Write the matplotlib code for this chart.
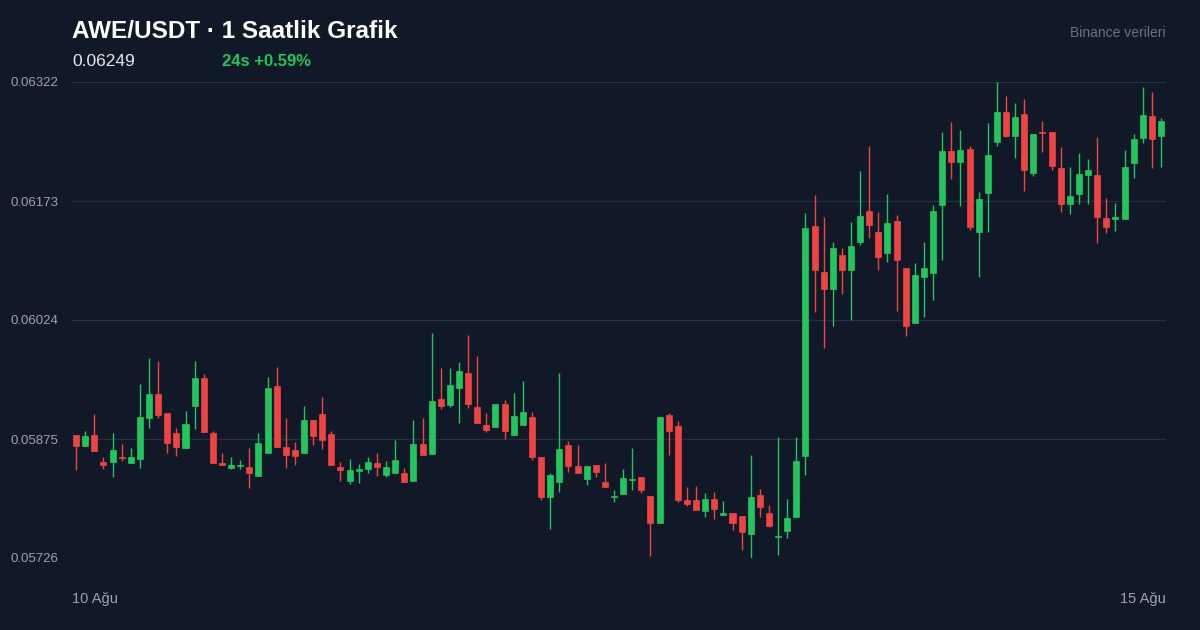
import matplotlib
matplotlib.use("Agg")
import matplotlib.pyplot as plt
from matplotlib.patches import Rectangle

plt.rcParams["font.family"] = ["Liberation Sans", "DejaVu Sans"]

# prices in units of 1e-5 USDT, hourly candles
opens = [5880, 5866, 5880, 5846, 5846, 5852, 5845, 5850, 5901, 5931,
         5908, 5883, 5864, 5916, 5951, 5883, 5845, 5839, 5841, 5840,
         5829, 5857, 5941, 5865, 5861, 5857, 5899, 5906, 5881, 5840,
         5822, 5835, 5837, 5845, 5830, 5832, 5832, 5822, 5869, 5856,
         5925, 5918, 5939, 5958, 5915, 5893, 5890, 5919, 5880, 5893,
         5903, 5852, 5802, 5821, 5867, 5841, 5825, 5842, 5821, 5802,
         5806, 5824, 5827, 5804, 5770, 5905, 5891, 5799, 5799, 5785,
         5800, 5780, 5782, 5779, 5756, 5805, 5782, 5752, 5760, 5777,
         5854, 6142, 6084, 6063, 6105, 6087, 6122, 6160, 6134, 6108,
         6148, 6089, 6020, 6078, 6083, 6168, 6236, 6222, 6238, 6134,
         6183, 6247, 6284, 6254, 6282, 6208, 6259, 6259, 6214, 6169,
         6182, 6206, 6206, 6152, 6150, 6150, 6221, 6252, 6279, 6254]
highs = [5880, 5885, 5906, 5852, 5883, 5869, 5864, 5944, 5976, 5973,
         5908, 5889, 5910, 5973, 5956, 5885, 5857, 5852, 5849, 5864,
         5883, 5953, 5965, 5901, 5871, 5916, 5899, 5928, 5885, 5846,
         5850, 5844, 5852, 5857, 5847, 5874, 5839, 5899, 5901, 6008,
         5964, 5964, 5971, 6005, 5979, 5908, 5919, 5924, 5933, 5948,
         5909, 5852, 5832, 5958, 5872, 5867, 5841, 5842, 5845, 5811,
         5837, 5864, 5827, 5804, 5903, 5908, 5898, 5815, 5816, 5807,
         5809, 5797, 5782, 5779, 5855, 5812, 5792, 5878, 5800, 5878,
         6158, 6180, 6153, 6122, 6114, 6147, 6211, 6242, 6159, 6182,
         6155, 6089, 6095, 6122, 6168, 6259, 6272, 6262, 6242, 6184,
         6271, 6322, 6304, 6296, 6301, 6257, 6273, 6259, 6241, 6216,
         6233, 6226, 6253, 6177, 6170, 6237, 6257, 6316, 6309, 6277]
lows = [5836, 5866, 5860, 5837, 5827, 5847, 5845, 5839, 5889, 5901,
        5857, 5854, 5864, 5888, 5884, 5845, 5842, 5837, 5837, 5814,
        5829, 5857, 5865, 5839, 5842, 5857, 5867, 5862, 5842, 5822,
        5819, 5820, 5832, 5829, 5827, 5832, 5821, 5822, 5855, 5856,
        5913, 5915, 5895, 5914, 5895, 5884, 5890, 5875, 5880, 5893,
        5849, 5799, 5762, 5809, 5834, 5832, 5817, 5827, 5815, 5796,
        5806, 5811, 5807, 5729, 5770, 5855, 5796, 5791, 5786, 5777,
        5775, 5780, 5761, 5736, 5726, 5777, 5765, 5730, 5751, 5777,
        5830, 6034, 5989, 6016, 6057, 6024, 6118, 6127, 6087, 6097,
        6035, 6004, 6020, 6028, 6049, 6099, 6201, 6167, 6137, 6078,
        6134, 6242, 6253, 6227, 6186, 6204, 6234, 6212, 6159, 6157,
        6169, 6169, 6120, 6133, 6135, 6150, 6202, 6246, 6214, 6216]
closes = [5866, 5879, 5860, 5842, 5861, 5851, 5852, 5903, 5931, 5905,
          5870, 5865, 5894, 5951, 5884, 5845, 5842, 5842, 5842, 5832,
          5870, 5939, 5865, 5855, 5854, 5899, 5879, 5874, 5842, 5836,
          5836, 5837, 5846, 5840, 5840, 5849, 5821, 5869, 5855, 5923,
          5916, 5943, 5960, 5919, 5895, 5886, 5919, 5885, 5904, 5909,
          5852, 5802, 5830, 5862, 5841, 5832, 5841, 5834, 5815, 5804,
          5826, 5825, 5811, 5770, 5903, 5885, 5799, 5794, 5786, 5800,
          5787, 5782, 5770, 5759, 5802, 5790, 5766, 5754, 5776, 5847,
          6139, 6087, 6063, 6114, 6087, 6117, 6154, 6143, 6103, 6145,
          6099, 6016, 6080, 6089, 6160, 6236, 6222, 6237, 6140, 6176,
          6231, 6284, 6254, 6278, 6212, 6257, 6258, 6217, 6169, 6179,
          6207, 6212, 6153, 6140, 6153, 6216, 6251, 6281, 6251, 6273]

yticks = [0.05726, 0.05875, 0.06024, 0.06173, 0.06322]
xlabels = ["10 Ağu", "15 Ağu"]

BG = "#111827"
GREEN = "#22c55e"
RED = "#ef4444"

fig = plt.figure(figsize=(12, 6.3), dpi=100, facecolor=BG)
ax = fig.add_axes([72 / 1200, 1 - 558 / 630, 1094 / 1200, 476 / 630])
ax.set_facecolor(BG)

for y in yticks:
    ax.axhline(y, color="#243041", lw=1, zorder=0)

for i in range(len(opens)):
    o, h, l, c = (v / 1e5 for v in (opens[i], highs[i], lows[i], closes[i]))
    col = GREEN if c >= o else RED
    ax.plot([i, i], [l, h], color=col, lw=1, zorder=2, solid_capstyle="butt")
    bot, top = min(o, c), max(o, c)
    ax.add_patch(Rectangle((i - 0.33, bot), 0.66, max(top - bot, 0.000003),
                           facecolor=col, edgecolor=col, lw=0.5, zorder=3))

ax.set_xlim(-0.45, len(opens) - 0.45)
ax.set_ylim(yticks[0], yticks[-1])
ax.set_yticks(yticks)
ax.set_yticklabels([f"{v:.5f}" for v in yticks])
ax.tick_params(axis="y", length=0, pad=10, labelcolor="#9ca3af", labelsize=9.5)
ax.set_xticks([])
for s in ax.spines.values():
    s.set_visible(False)

fig.text(72 / 1200, 1 - 31 / 630, "AWE/USDT · 1 Saatlik Grafik", color="white",
         fontsize=17.5, fontweight="bold", va="center", ha="left")
fig.text(72 / 1200, 1 - 61 / 630, "0.06249", color="#e5e7eb", fontsize=12.5,
         va="center", ha="left")
fig.text(222 / 1200, 1 - 61 / 630, "24s +0.59%", color=GREEN, fontsize=12,
         fontweight="bold", va="center", ha="left")
fig.text(1166 / 1200, 1 - 33 / 630, "Binance verileri", color="#6b7280",
         fontsize=10, va="center", ha="right")
fig.text(72 / 1200, 1 - 599 / 630, xlabels[0], color="#9ca3af", fontsize=10.5,
         va="center", ha="left")
fig.text(1166 / 1200, 1 - 599 / 630, xlabels[1], color="#9ca3af", fontsize=10.5,
         va="center", ha="right")

fig.savefig("out.png", dpi=100, facecolor=BG)
